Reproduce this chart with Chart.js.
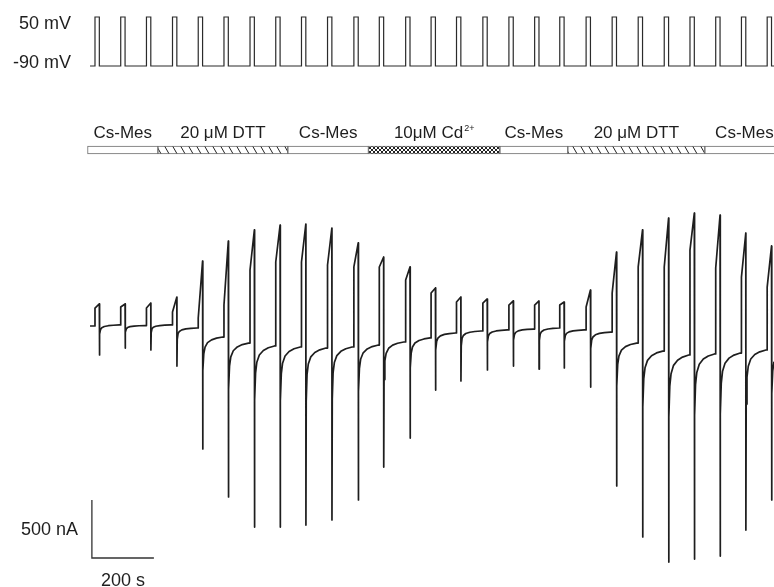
<!DOCTYPE html>
<html>
<head>
<meta charset="utf-8">
<script src="https://cdn.jsdelivr.net/npm/chart.js@4.4.0/dist/chart.umd.min.js"></script>
<style>
  html, body { margin: 0; padding: 0; background: #fff; }
  #wrap { position: relative; width: 774px; height: 587px; overflow: hidden; }
  canvas { position: absolute; left: 0; }
  #voltage { top: 0; }
  #solution { top: 110px; }
  #current { top: 170px; }
</style>
</head>
<body>
<div id="wrap">
  <canvas id="voltage" width="774" height="80"></canvas>
  <canvas id="solution" width="774" height="50"></canvas>
  <canvas id="current" width="774" height="417"></canvas>
</div>
<script>
// time in s, voltage in mV, current in nA
const pulseOn = [10, 93, 176, 260, 343, 426, 510, 593, 676, 760, 845, 927, 1012, 1094,
                 1176, 1261, 1345, 1428, 1509, 1594, 1678, 1762, 1846, 1929, 2012, 2095, 2178];
const pulseWidth = 14;
const holdV = -90;
const stepV = 50;

// holding current just before each step
const preI  = [0, 9, 4, 9, -17, -95, -147, -172, -181, -190, -181, -164, -138, -103,
               -60, -43, -34, -26, -17, -34, -52, -147, -216, -250, -241, -233, -207];
// current right after the step starts
const stepI = [155, 164, 155, 121, 69, 181, 483, 552, 552, 526, 509, 509, 397, 284,
               207, 198, 181, 181, 181, 164, 284, 509, 509, 655, 500, 422, 336];
// current at the end of the step
const peakI = [190, 190, 198, 250, 560, 733, 828, 871, 879, 845, 716, 595, 509, 328,
               250, 233, 216, 216, 207, 310, 638, 828, 931, 974, 957, 802, 690];
// tail current after repolarisation
const tailI = [-250, -190, -207, -345, -1060, -1474, -1733, -1733, -1716, -1672, -1500, -1216, -966, -552,
               -474, -379, -345, -371, -362, -526, -1379, -1819, -2035, -2009, -1983, -1759, -1500];
const endI = -190;

// how the tails relax: s after the step ends, share of the tail left
const tailTime = [0.3, 1.3, 3.9, 8, 16, 29, 45, 65];
const tailFrac = [1, 0.3, 0.15, 0.09, 0.05, 0.025, 0.01, 0];

// bath solutions
const solNames = ['Cs-Mes', '20 \u03bcM DTT', 'Cs-Mes', '10\u03bcM Cd', 'Cs-Mes', '20 \u03bcM DTT', 'Cs-Mes'];
const solSup   = ['', '', '', '2+', '', '', ''];
const solStart = [-14, 213, 632, 892, 1316, 1535, 1977];
const solEnd   = [213, 632, 892, 1316, 1535, 1977, 2232];
const solFill  = ['plain', 'hatch', 'plain', 'cross', 'plain', 'hatch', 'plain'];

// scale bar
const scaleBarI = 500;
const scaleBarT = 200;

const tMin = -19, tMax = 2200, tStart = -6;
const FONT = '"Liberation Sans", Arial, sans-serif';
const INK = '#1e1e1e';

function texts(items, size) {
  return {
    id: 'texts',
    afterDatasetsDraw(chart) {
      const { ctx, scales: { x, y } } = chart;
      ctx.save();
      ctx.fillStyle = INK;
      ctx.textBaseline = 'alphabetic';
      ctx.textAlign = 'left';
      items.forEach(it => {
        const big = size + 'px ' + FONT, small = '9px ' + FONT;
        ctx.font = big;
        const w = ctx.measureText(it.text).width;
        ctx.font = small;
        const ws = it.sup ? ctx.measureText(it.sup).width + 1 : 0;
        const px = x.getPixelForValue(it.x), py = y.getPixelForValue(it.y);
        let left = px;
        if (it.align === 'right') left = px - w - ws;
        if (it.align === 'center') left = px - (w + ws) / 2;
        ctx.font = big;
        ctx.fillText(it.text, left, py);
        if (it.sup) {
          ctx.font = small;
          ctx.fillText(it.sup, left + w + 1, py - 7);
        }
      });
      ctx.restore();
    }
  };
}

const baseOpts = (yMin, yMax) => ({
  responsive: false,
  animation: false,
  events: [],
  layout: { padding: { left: 86, right: 0, top: 0, bottom: 0 } },
  plugins: { legend: { display: false }, tooltip: { enabled: false } },
  scales: {
    x: { type: 'linear', min: tMin, max: tMax, display: false, offset: false },
    y: { type: 'linear', min: yMin, max: yMax, display: false, offset: false }
  }
});

// voltage protocol
const vTrace = [{ x: tStart, y: holdV }];
pulseOn.forEach(on => {
  vTrace.push({ x: on, y: holdV }, { x: on, y: stepV },
              { x: on + pulseWidth, y: stepV }, { x: on + pulseWidth, y: holdV });
});
vTrace.push({ x: tMax, y: holdV });

new Chart(document.getElementById('voltage'), {
  type: 'line',
  data: {
    datasets: [{
      data: vTrace,
      borderColor: '#2b2b2b',
      borderWidth: 1.2,
      pointRadius: 0,
      tension: 0,
      borderJoinStyle: 'miter'
    }]
  },
  options: baseOpts(-130, 98.6),
  plugins: [texts([
    { text: '50 mV', x: -67, y: 16, align: 'right' },
    { text: '-90 mV', x: -67, y: -96, align: 'right' }
  ], 18)]
});

// solution bar
function pattern(kind) {
  if (kind === 'plain') return '#ffffff';
  const c = document.createElement('canvas');
  const g = c.getContext('2d');
  if (kind === 'hatch') {
    c.width = 8; c.height = 14;
    g.fillStyle = '#fff';
    g.fillRect(0, 0, 8, 14);
    g.strokeStyle = '#222';
    g.lineWidth = 1;
    [-8, 0, 8].forEach(o => { g.beginPath(); g.moveTo(o, 0); g.lineTo(o + 8, 14); g.stroke(); });
  } else {
    c.width = 4; c.height = 4;
    g.fillStyle = '#fff';
    g.fillRect(0, 0, 4, 4);
    g.strokeStyle = '#222';
    g.lineWidth = 1;
    [[0, 0, 4, 4], [4, 0, 0, 4], [-4, 0, 0, 4], [4, 4, 8, 0]].forEach(([a, b, c2, d]) => {
      g.beginPath(); g.moveTo(a, b); g.lineTo(c2, d); g.stroke();
    });
  }
  return g.createPattern(c, 'repeat');
}

const solOpts = baseOpts(-1, 4);
solOpts.indexAxis = 'y';

new Chart(document.getElementById('solution'), {
  type: 'bar',
  data: {
    datasets: [{
      data: solStart.map((s, i) => ({ x: [s, solEnd[i]], y: 0 })),
      backgroundColor: solFill.map(pattern),
      borderColor: '#6e6e6e',
      borderWidth: 1,
      borderSkipped: false,
      barThickness: 8
    }]
  },
  options: solOpts,
  plugins: [texts(solNames.map((n, i) => ({
    text: n, sup: solSup[i], x: (solStart[i] + solEnd[i]) / 2, y: 1.2, align: 'center'
  })), 17)]
});

// membrane current
const trace = [{ x: tStart, y: preI[0] }];
pulseOn.forEach((on, i) => {
  const off = on + pulseWidth;
  const next = i + 1 < pulseOn.length ? preI[i + 1] : endI;
  trace.push({ x: on, y: preI[i] }, { x: on, y: stepI[i] }, { x: off, y: peakI[i] });
  tailTime.forEach((dt, k) => {
    trace.push({ x: off + dt, y: next + tailFrac[k] * (tailI[i] - next) });
  });
});

const barAt = { x: 0, y: -2000 };

new Chart(document.getElementById('current'), {
  type: 'line',
  data: {
    datasets: [{
      data: trace,
      borderColor: INK,
      borderWidth: 1.7,
      pointRadius: 0,
      tension: 0,
      borderJoinStyle: 'round'
    }, {
      data: [{ x: barAt.x, y: barAt.y + scaleBarI }, { x: barAt.x, y: barAt.y },
             { x: barAt.x + scaleBarT, y: barAt.y }],
      borderColor: '#333',
      borderWidth: 1.3,
      pointRadius: 0,
      tension: 0
    }]
  },
  options: baseOpts(-2250, 1345),
  plugins: [texts([
    { text: scaleBarI + ' nA', x: -45, y: -1802, align: 'right' },
    { text: scaleBarT + ' s', x: 100, y: -2241, align: 'center' }
  ], 18)]
});
</script>
</body>
</html>
